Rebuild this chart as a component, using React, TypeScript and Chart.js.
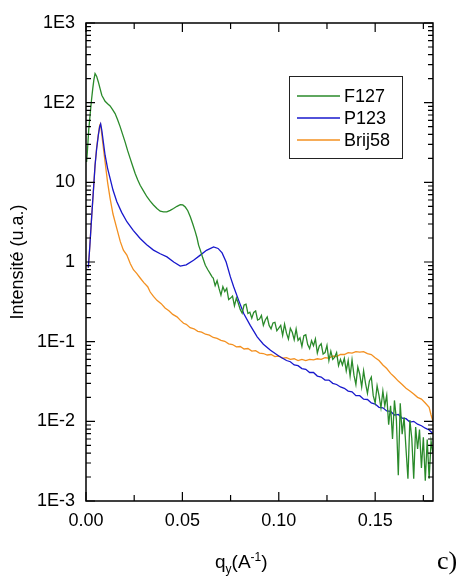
import React, { useEffect, useRef } from "react";
import { Chart, registerables } from "chart.js";

Chart.register(...registerables);

const seriesNames = ["F127", "P123", "Brij58"];
const seriesColors = ["#2a8a2a", "#1818cc", "#f39020"];

const f127Q = [
  0.0003, 0.0007, 0.0014, 0.0021, 0.0028, 0.0035, 0.0041, 0.0047, 0.0055, 0.0064,
  0.0073, 0.0082, 0.0099, 0.0112, 0.0125, 0.0138, 0.0151, 0.0164, 0.0177, 0.019,
  0.0203, 0.0216, 0.0229, 0.0242, 0.0255, 0.0268, 0.0281, 0.0298, 0.0316, 0.0333,
  0.035, 0.0368, 0.0385, 0.0402, 0.0419, 0.0437, 0.0454, 0.0472, 0.0489, 0.0502,
  0.0515, 0.0528, 0.0541, 0.0554, 0.0567, 0.0576, 0.0584, 0.0593, 0.0606, 0.0619,
  0.0632, 0.0645, 0.0654,
  0.066, 0.067, 0.068, 0.069, 0.07, 0.071, 0.072, 0.073, 0.074, 0.075,
  0.076, 0.077, 0.078, 0.079, 0.08, 0.081, 0.082, 0.083, 0.084, 0.085,
  0.086, 0.087, 0.088, 0.089, 0.09, 0.091, 0.092, 0.093, 0.094, 0.095,
  0.096, 0.097, 0.098, 0.099, 0.1, 0.101, 0.102, 0.103, 0.104, 0.105,
  0.106, 0.107, 0.108, 0.109, 0.11, 0.111, 0.112, 0.113, 0.114, 0.115,
  0.116, 0.117, 0.118, 0.119, 0.12, 0.121, 0.122, 0.123, 0.124, 0.125,
  0.126, 0.127, 0.128, 0.129, 0.13, 0.131, 0.132, 0.133, 0.134, 0.135,
  0.136, 0.137, 0.138, 0.139, 0.14, 0.141, 0.142, 0.143, 0.144, 0.145,
  0.146, 0.147, 0.148, 0.149, 0.15, 0.151, 0.152, 0.153, 0.154, 0.155,
  0.156, 0.157, 0.158, 0.159, 0.16, 0.161, 0.162, 0.163, 0.164, 0.165,
  0.166, 0.167, 0.168, 0.169, 0.17, 0.171, 0.172, 0.173, 0.174, 0.175,
  0.176, 0.177, 0.178, 0.179, 0.18,
];
const f127I = [
  18, 24, 45, 69, 105, 150, 195, 232, 215, 182,
  150, 124, 104, 97, 91, 82, 73, 61, 50, 40,
  32, 25, 20, 16, 12.9, 10.8, 9.2, 7.8, 6.6, 5.8,
  5.2, 4.7, 4.34, 4.25, 4.25, 4.45, 4.7, 5.0, 5.25, 5.2,
  4.9, 4.4, 3.7, 3.0, 2.39, 2.0, 1.63, 1.41, 1.12, 0.91,
  0.8, 0.71, 0.65,
  0.63, 0.504, 0.582, 0.466, 0.384, 0.49, 0.425, 0.466, 0.337, 0.352,
  0.373, 0.282, 0.353, 0.303, 0.254, 0.228, 0.288, 0.295, 0.226, 0.234,
  0.197, 0.233, 0.243, 0.187, 0.192, 0.213, 0.16, 0.187, 0.204, 0.16,
  0.145, 0.172, 0.175, 0.137, 0.148, 0.16, 0.12, 0.166, 0.128, 0.108,
  0.147, 0.131, 0.106, 0.144, 0.104, 0.112, 0.087, 0.119, 0.122, 0.092,
  0.082, 0.103, 0.089, 0.108, 0.072, 0.088, 0.094, 0.07, 0.073, 0.09,
  0.058, 0.076, 0.06, 0.064, 0.073, 0.05, 0.06, 0.051, 0.062, 0.043,
  0.058, 0.037, 0.059, 0.038, 0.029, 0.048, 0.039, 0.027, 0.043, 0.03,
  0.0225, 0.032, 0.036, 0.021, 0.017, 0.028, 0.021, 0.0148, 0.024, 0.0157,
  0.0212, 0.0091, 0.0157, 0.006, 0.0183, 0.0106, 0.0021, 0.0168, 0.0069, 0.0112,
  0.0045, 0.0019, 0.0104, 0.0061, 0.0019, 0.0085, 0.0045, 0.0079, 0.0026, 0.0063,
  0.0018, 0.0059, 0.0019, 0.0056, 0.004,
];

const p123Q = [
  0.0012, 0.002, 0.003, 0.004, 0.0047, 0.0055, 0.0064, 0.0071, 0.0076, 0.0082,
  0.009, 0.0099, 0.0112, 0.0125, 0.014, 0.016, 0.0185, 0.0212, 0.0245, 0.0281,
  0.0315, 0.035, 0.0385, 0.042, 0.0455, 0.0489, 0.052, 0.0558, 0.0593, 0.0625,
  0.0662, 0.0685, 0.0706, 0.0727, 0.0749, 0.0766, 0.0792, 0.0818, 0.0852, 0.0888,
  0.092, 0.0957, 0.1,
  0.102, 0.104, 0.106, 0.108, 0.11, 0.112, 0.114, 0.116, 0.118, 0.12,
  0.122, 0.124, 0.126, 0.128, 0.13, 0.132, 0.134, 0.136, 0.138, 0.14,
  0.142, 0.144, 0.146, 0.148, 0.15, 0.152, 0.154, 0.156, 0.158, 0.16,
  0.162, 0.164, 0.166, 0.168, 0.17, 0.172, 0.174, 0.176, 0.178, 0.18,
];
const p123I = [
  0.85, 1.6, 3.9, 9, 16.4, 26, 39, 50, 54, 45,
  32, 21.9, 15, 11.2, 8.0, 5.7, 4.2, 3.2, 2.5, 1.97,
  1.65, 1.41, 1.27, 1.16, 1.0, 0.89, 0.92, 1.05, 1.22, 1.4,
  1.55, 1.48, 1.3, 1.0, 0.65, 0.49, 0.33, 0.226, 0.16, 0.115,
  0.093, 0.078, 0.066,
  0.062, 0.058, 0.056, 0.051, 0.05, 0.046, 0.045, 0.041, 0.041, 0.037,
  0.036, 0.033, 0.033, 0.03, 0.029, 0.027, 0.026, 0.024, 0.0235, 0.021,
  0.021, 0.019, 0.0188, 0.017, 0.0165, 0.015, 0.0148, 0.0135, 0.0133, 0.012,
  0.0122, 0.011, 0.0108, 0.0098, 0.01, 0.0092, 0.0088, 0.0082, 0.0078, 0.007,
];

const brij58Q = [
  0.0012, 0.002, 0.003, 0.004, 0.0047, 0.0055, 0.0064, 0.0071, 0.0075, 0.008,
  0.0088, 0.0099, 0.0112, 0.0125, 0.014, 0.016, 0.0178, 0.0194, 0.0212, 0.023,
  0.0246, 0.0263, 0.0281, 0.03, 0.032, 0.0333, 0.035, 0.0368, 0.039, 0.041,
  0.043, 0.045, 0.0472, 0.049, 0.0506,
  0.052, 0.054, 0.056, 0.058, 0.06, 0.062, 0.064, 0.066, 0.068, 0.07,
  0.072, 0.074, 0.076, 0.078, 0.08, 0.082, 0.084, 0.086, 0.088, 0.09,
  0.092, 0.094, 0.096, 0.098, 0.1, 0.102, 0.104, 0.106, 0.108, 0.11,
  0.112, 0.114, 0.116, 0.118, 0.12, 0.122, 0.124, 0.126, 0.128, 0.13,
  0.132, 0.134, 0.136, 0.138, 0.14, 0.142, 0.144, 0.146, 0.148, 0.15,
  0.152, 0.154, 0.156, 0.158, 0.16, 0.162, 0.164, 0.166, 0.168, 0.17,
  0.172, 0.174, 0.176, 0.178, 0.179, 0.18,
];
const brij58I = [
  0.85, 1.6, 3.9, 9, 16.4, 27, 40, 52, 54, 44,
  30, 18, 10, 6.3, 4.0, 2.63, 1.8, 1.41, 1.22, 0.95,
  0.8, 0.72, 0.63, 0.55, 0.49, 0.42, 0.37, 0.33, 0.3, 0.265,
  0.245, 0.22, 0.205, 0.185, 0.17,
  0.165, 0.15, 0.145, 0.135, 0.132, 0.124, 0.121, 0.113, 0.11, 0.104,
  0.101, 0.094, 0.092, 0.086, 0.087, 0.081, 0.082, 0.076, 0.077, 0.072,
  0.071, 0.068, 0.069, 0.065, 0.066, 0.062, 0.063, 0.06, 0.061, 0.058,
  0.06, 0.058, 0.06, 0.059, 0.061, 0.06, 0.063, 0.062, 0.066, 0.065,
  0.069, 0.069, 0.073, 0.072, 0.075, 0.074, 0.075, 0.071, 0.069, 0.063,
  0.058, 0.051, 0.046, 0.04, 0.036, 0.032, 0.029, 0.026, 0.024, 0.022,
  0.02, 0.019, 0.017, 0.015, 0.012, 0.01,
];

const xTickValues = [0, 0.05, 0.1, 0.15];
const xTickLabels = ["0.00", "0.05", "0.10", "0.15"];
const xMinorTickValues = [0.025, 0.075, 0.125, 0.175];
const yTickValues = [1e-3, 1e-2, 1e-1, 1, 10, 100, 1000];
const yTickLabels = ["1E-3", "1E-2", "1E-1", "1", "10", "1E2", "1E3"];
const yMinorFactors = [2, 3, 4, 5, 6, 7, 8, 9];

const yTitle = "Intensité (u.a.)";
const FONT = "'Liberation Sans', Arial, sans-serif";

const seriesQ = [f127Q, p123Q, brij58Q];
const seriesI = [f127I, p123I, brij58I];

const framePlugin = {
  id: "frameTicksLegend",
  afterDatasetsDraw(chart: any) {
    const { ctx, chartArea: a, scales } = chart;
    const xs = scales.x;
    const ys = scales.y;
    ctx.save();
    ctx.strokeStyle = "#000";
    ctx.lineWidth = 1.5;
    ctx.strokeRect(a.left, a.top, a.right - a.left, a.bottom - a.top);
    ctx.lineWidth = 1.2;
    ctx.beginPath();
    const vTick = (px: number, len: number) => {
      ctx.moveTo(px, a.bottom);
      ctx.lineTo(px, a.bottom - len);
      ctx.moveTo(px, a.top);
      ctx.lineTo(px, a.top + len);
    };
    const hTick = (py: number, len: number) => {
      ctx.moveTo(a.left, py);
      ctx.lineTo(a.left + len, py);
      ctx.moveTo(a.right, py);
      ctx.lineTo(a.right - len, py);
    };
    xTickValues.forEach((v) => vTick(xs.getPixelForValue(v), 9));
    xMinorTickValues.forEach((v) => vTick(xs.getPixelForValue(v), 6));
    yTickValues.forEach((v) => hTick(ys.getPixelForValue(v), 9));
    yTickValues.slice(0, -1).forEach((d) =>
      yMinorFactors.forEach((f) => hTick(ys.getPixelForValue(d * f), 5))
    );
    ctx.stroke();

    // legend
    const lx = 289, ly = 76, lw = 113, lh = 82, rowH = 22;
    ctx.fillStyle = "#fff";
    ctx.fillRect(lx, ly, lw, lh);
    ctx.strokeStyle = "#222";
    ctx.lineWidth = 1;
    ctx.strokeRect(lx + 0.5, ly + 0.5, lw, lh);
    ctx.font = `18px ${FONT}`;
    ctx.textBaseline = "middle";
    ctx.textAlign = "left";
    chart.data.datasets.forEach((ds: any, i: number) => {
      const cy = ly + 20 + i * rowH;
      ctx.strokeStyle = ds.borderColor;
      ctx.lineWidth = 1.3;
      ctx.beginPath();
      ctx.moveTo(lx + 8, cy);
      ctx.lineTo(lx + 51, cy);
      ctx.stroke();
      ctx.fillStyle = "#000";
      ctx.fillText(ds.label, lx + 55, cy + 1);
    });
    ctx.restore();
  },
};

export default function App() {
  const canvasRef = useRef<HTMLCanvasElement | null>(null);

  useEffect(() => {
    if (!canvasRef.current) return;
    const datasets = seriesNames.map((name, s) => ({
      label: name,
      data: seriesQ[s].map((q, i) => ({ x: q, y: seriesI[s][i] })),
      borderColor: seriesColors[s],
      backgroundColor: seriesColors[s],
      borderWidth: 1.3,
      pointRadius: 0,
      tension: 0,
      fill: false,
    }));
    const chart = new Chart(canvasRef.current, {
      type: "line",
      data: { datasets },
      options: {
        animation: false,
        responsive: false,
        devicePixelRatio: 1,
        layout: { padding: { left: 0, right: 28, top: 23, bottom: 0 } },
        plugins: { legend: { display: false }, tooltip: { enabled: false } },
        scales: {
          x: {
            type: "linear",
            min: 0,
            max: 0.18,
            grid: { display: false, drawTicks: false },
            border: { display: false },
            afterBuildTicks: (scale: any) => {
              scale.ticks = xTickValues.map((v) => ({ value: v }));
            },
            afterFit: (scale: any) => {
              scale.height = 75;
            },
            ticks: {
              autoSkip: false,
              maxRotation: 0,
              padding: 9,
              color: "#000",
              font: { family: FONT, size: 18 },
              callback: (_v: any, i: number) => xTickLabels[i],
            },
          },
          y: {
            type: "logarithmic",
            min: 1e-3,
            max: 1e3,
            grid: { display: false, drawTicks: false },
            border: { display: false },
            afterBuildTicks: (scale: any) => {
              scale.ticks = yTickValues.map((v) => ({ value: v }));
            },
            afterFit: (scale: any) => {
              scale.width = 86;
            },
            ticks: {
              autoSkip: false,
              padding: 11,
              color: "#000",
              font: { family: FONT, size: 18 },
              callback: (_v: any, i: number) => yTickLabels[i],
            },
            title: {
              display: true,
              text: yTitle,
              color: "#000",
              font: { family: FONT, size: 18 },
              padding: { top: 7, bottom: 0 },
            },
          },
        },
      },
      plugins: [framePlugin],
    } as any);
    return () => chart.destroy();
  }, []);

  return (
    <div style={{ position: "absolute", left: 0, top: 0, width: 461, height: 576, background: "#fff" }}>
      <canvas ref={canvasRef} width={461} height={576} style={{ display: "block" }} />
      <div
        style={{
          position: "absolute",
          left: 215,
          top: 546,
          fontFamily: FONT,
          fontSize: 19,
          color: "#000",
          whiteSpace: "nowrap",
          lineHeight: "22px",
        }}
      >
        q<sub style={{ fontSize: 12 }}>y</sub>(A<sup style={{ fontSize: 12 }}>-1</sup>)
      </div>
      <div
        style={{
          position: "absolute",
          left: 437,
          top: 546,
          fontFamily: "'Liberation Serif', 'Times New Roman', serif",
          fontSize: 26,
          color: "#000",
          lineHeight: "30px",
        }}
      >
        c)
      </div>
    </div>
  );
}
